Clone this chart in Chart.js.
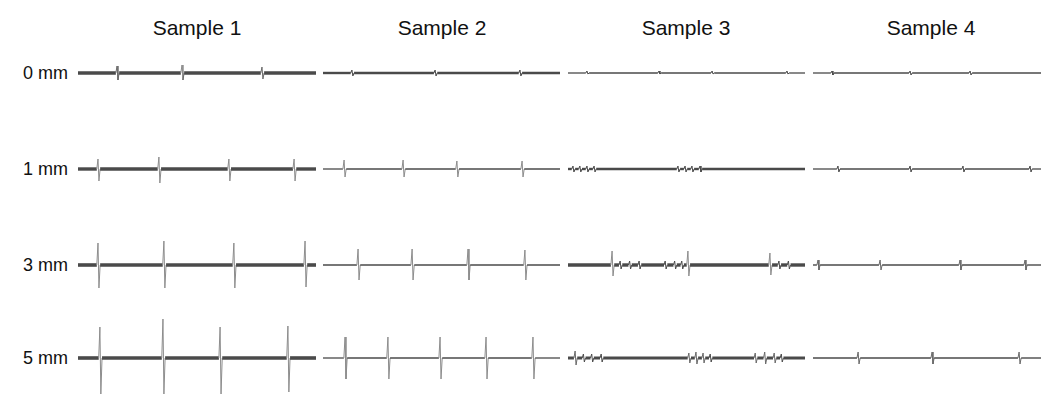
<!DOCTYPE html>
<html>
<head>
<meta charset="utf-8">
<script src="https://cdn.jsdelivr.net/npm/chart.js@4"></script>
<style>
  body { margin: 0; background: #fff; width: 1041px; height: 396px; position: relative; overflow: hidden;
         font-family: "Liberation Sans", Arial, sans-serif; color: #111; }
  .title { position: absolute; top: 16px; font-size: 21px; transform: translateX(-50%); white-space: nowrap; }
  .depth { position: absolute; left: 0; width: 68px; text-align: right; font-size: 18px; transform: translateY(-50%); white-space: nowrap; }
  canvas { position: absolute; }
</style>
</head>
<body>
<script>
const samples = ['Sample 1', 'Sample 2', 'Sample 3', 'Sample 4'];
const depths = ['0 mm', '1 mm', '3 mm', '5 mm'];

// spike times, % of record, indexed [depth][sample]
const spikeTimes = [
  [[16.4, 43.7, 77.3], [12.2, 47.3, 83.1], [8.0, 38.4, 60.8, 92.4], [8.3, 42.4, 68.6]],
  [[8.4, 34.0, 63.4, 90.8], [8.9, 33.8, 56.5, 84.0], [2.1, 5.0, 8.0, 11.0, 46.4, 49.4, 52.3, 55.7], [10.9, 42.4, 65.5, 94.8]],
  [[8.4, 36.1, 65.5, 95.4], [14.8, 37.6, 61.2, 85.2], [18.6, 22.0, 26.0, 30.0, 41.0, 45.0, 48.0, 50.6, 85.2, 89.0, 93.0], [2.2, 29.3, 64.2, 92.6]],
  [[9.2, 35.7, 59.7, 88.2], [9.3, 27.4, 49.4, 68.8, 88.6], [3.0, 6.5, 10.0, 14.0, 51.0, 54.0, 57.0, 60.0, 79.0, 83.0, 87.0, 90.0], [19.7, 52.0, 90.0]]
];
// peak above baseline
const spikeUp = [
  [[7, 8, 6], [3, 3, 3], [2, 2, 2, 2], [2, 2, 2]],
  [[10, 12, 10, 10], [9, 9, 8, 8], [3, 3, 3, 3, 3, 3, 3, 3], [3, 3, 3, 3]],
  [[22, 24, 22, 24], [16, 16, 16, 15], [14, 4, 4, 4, 4, 4, 4, 14, 12, 4, 4], [5, 5, 5, 5]],
  [[31, 39, 31, 32], [21, 21, 21, 21, 21], [7, 4, 4, 4, 5, 6, 5, 4, 5, 6, 5, 4], [6, 6, 6]]
];
// trough below baseline
const spikeDown = [
  [[7, 7, 6], [3, 3, 3], [1, 1, 1, 1], [2, 2, 2]],
  [[12, 14, 12, 12], [8, 8, 8, 8], [3, 3, 3, 3, 3, 3, 3, 3], [3, 3, 3, 3]],
  [[23, 23, 23, 22], [15, 15, 15, 15], [11, 4, 4, 4, 4, 4, 4, 11, 10, 4, 4], [5, 5, 5, 5]],
  [[36, 36, 36, 34], [21, 21, 21, 21, 21], [7, 4, 4, 4, 5, 6, 5, 4, 5, 6, 5, 4], [6, 6, 6]]
];

// layout of the grid
const colLeft = [78, 323, 568, 813];
const colWidth = [238, 237, 237, 229];
const rowMid = [73, 169, 265, 358];
const titleX = [197, 442, 686, 931];
// baseline band width per [depth][sample]
const bandWidth = [
  [3.4, 2.4, 1.3, 1.3],
  [3.4, 1.3, 2.4, 1.3],
  [3.6, 1.3, 3.4, 1.4],
  [3.6, 1.3, 3.0, 1.4]
];

samples.forEach((s, c) => {
  const d = document.createElement('div');
  d.className = 'title';
  d.style.left = titleX[c] + 'px';
  d.textContent = s;
  document.body.appendChild(d);
});
depths.forEach((s, r) => {
  const d = document.createElement('div');
  d.className = 'depth';
  d.style.top = rowMid[r] + 'px';
  d.textContent = s;
  document.body.appendChild(d);
});

function buildTrace(r, c) {
  const pts = [{ x: 0, y: 0 }];
  spikeTimes[r][c].forEach((t, i) => {
    pts.push({ x: t - 0.5, y: 0 });
    pts.push({ x: t, y: spikeUp[r][c][i] });
    pts.push({ x: t + 0.4, y: -spikeDown[r][c][i] });
    pts.push({ x: t + 0.9, y: 0 });
  });
  pts.push({ x: 100, y: 0 });
  return pts;
}

for (let r = 0; r < depths.length; r++) {
  for (let c = 0; c < samples.length; c++) {
    const cv = document.createElement('canvas');
    cv.width = colWidth[c];
    cv.height = 100;
    cv.style.left = colLeft[c] + 'px';
    cv.style.top = (rowMid[r] - 50) + 'px';
    document.body.appendChild(cv);
    const band = bandWidth[r][c];
    const amp = ctx => Math.max(Math.abs(ctx.p0.parsed.y), Math.abs(ctx.p1.parsed.y));

    new Chart(cv, {
      type: 'line',
      data: {
        datasets: [{
          data: buildTrace(r, c),
          borderColor: '#4a4a4a',
          borderWidth: band,
          pointRadius: 0,
          tension: 0,
          segment: {
            borderWidth: ctx => amp(ctx) === 0 ? undefined : 1,
            borderColor: ctx => amp(ctx) > 7 ? '#8c8c8c' : (amp(ctx) > 4 ? '#6a6a6a' : undefined)
          }
        }]
      },
      options: {
        responsive: false,
        animation: false,
        events: [],
        layout: { padding: 0 },
        plugins: { legend: { display: false }, tooltip: { enabled: false } },
        scales: {
          x: { type: 'linear', min: 0, max: 100, display: false },
          y: { min: -50, max: 50, display: false }
        }
      }
    });
  }
}
</script>
</body>
</html>
